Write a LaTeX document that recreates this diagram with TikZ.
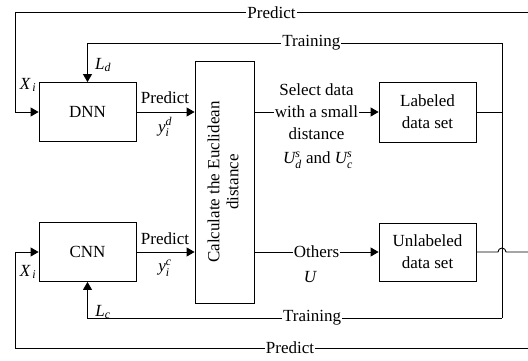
\documentclass[tikz,border=0pt]{standalone}
\usepackage{fontspec}
\setmainfont{Liberation Serif}
\usetikzlibrary{arrows.meta}

\begin{document}
\begin{tikzpicture}[x=1pt, y=1pt,
  font=\fontsize{17}{22}\selectfont,
  line width=0.9pt,
  arr/.style={-{Triangle[length=8pt,width=9pt]}},
  box/.style={draw, line width=0.8pt, minimum width=97pt, minimum height=59pt,
              inner sep=0pt, align=center},
  lbl/.style={fill=white, inner sep=1pt},
  sym/.style={inner sep=0pt}]

\useasboundingbox (0,0) rectangle (528,360);

% processing blocks
\node[box] (dnn) at (87.5,248) {DNN};
\node[box] (cnn) at (87.5,108) {CNN};
\node[box, minimum width=59pt, minimum height=242pt] (calc) at (224.5,178)
  {\rotatebox{90}{\begin{tabular}{@{}c@{}}Calculate the Euclidean\\[-3pt]distance\end{tabular}}};
\node[box, minimum height=60pt] (lab) at (427.5,248) {Labeled\\data set};
\node[box, minimum height=58pt] (unl) at (427.5,108) {Unlabeled\\data set};

% routing points of the feedback loops
\coordinate (ptop) at (528,347.5);
\coordinate (pbot) at (528,12);
\coordinate (ltop) at (15,347.5);
\coordinate (lbot) at (15,12);
\coordinate (tr) at (502,248);
\coordinate (tt) at (502,317);
\coordinate (tb) at (502,42);
\coordinate (jmp) at (502,108);
\coordinate (uout) at (528,108);

% predictions into the distance block
\draw[arr] (dnn.east) -- (dnn.east -| calc.west);
\draw[arr] (cnn.east) -- (cnn.east -| calc.west);
\node[sym] at (165,262) {Predict};
\node[sym] at (165,233) {$\mathit{y}_{\mathit{i}}^{\mathit{d}}$};
\node[sym] at (165,121) {Predict};
\node[sym] at (165,92) {$\mathit{y}_{\mathit{i}}^{\mathit{c}}$};

% split into labeled / unlabeled sets
\draw[arr] (calc.east |- lab.west) -- node[lbl, align=center, pos=0.5]
  {Select data\\with a small\\distance} (lab.west);
\node[sym] at (318,200) {$\mathit{U}_{\mathit{d}}^{\mathit{s}}$ and $\mathit{U}_{\mathit{c}}^{\mathit{s}}$};
\draw[arr] (calc.east |- unl.west) -- node[lbl, pos=0.5] {Others} (unl.west);
\node[sym] at (310,83) {$\mathit{U}$};

% training feedback from the labeled set
\draw (lab.east) -- (tr);
\draw (tt) -- (tb);
\draw[arr] (tt) -- node[lbl, pos=0.46] {Training} (tt -| dnn.north) -- (dnn.north);
\draw[arr] (tb) -- node[lbl, pos=0.458] {Training} (tb -| cnn.south) -- (cnn.south);
\node[sym] at (103,295) {$\mathit{L}_{\mathit{d}}$};
\node[sym] at (103,48) {$\mathit{L}_{\mathit{c}}$};

% unlabeled output, hopping over the training line
\draw (unl.east) -- ([xshift=-4pt]jmp) arc[start angle=180, end angle=0, radius=4pt] -- (uout);

% prediction loops back to the inputs
\draw[arr] (ptop) -- node[lbl, pos=0.5] {Predict} (ltop) |- (dnn.west);
\draw[arr] (pbot) -- node[lbl, pos=0.464] {Predict} (lbot) |- (cnn.west);
\node[sym] at (28,275) {$\mathit{X}_{\,\mathit{i}}$};
\node[sym] at (28,88) {$\mathit{X}_{\,\mathit{i}}$};

\end{tikzpicture}
\end{document}
